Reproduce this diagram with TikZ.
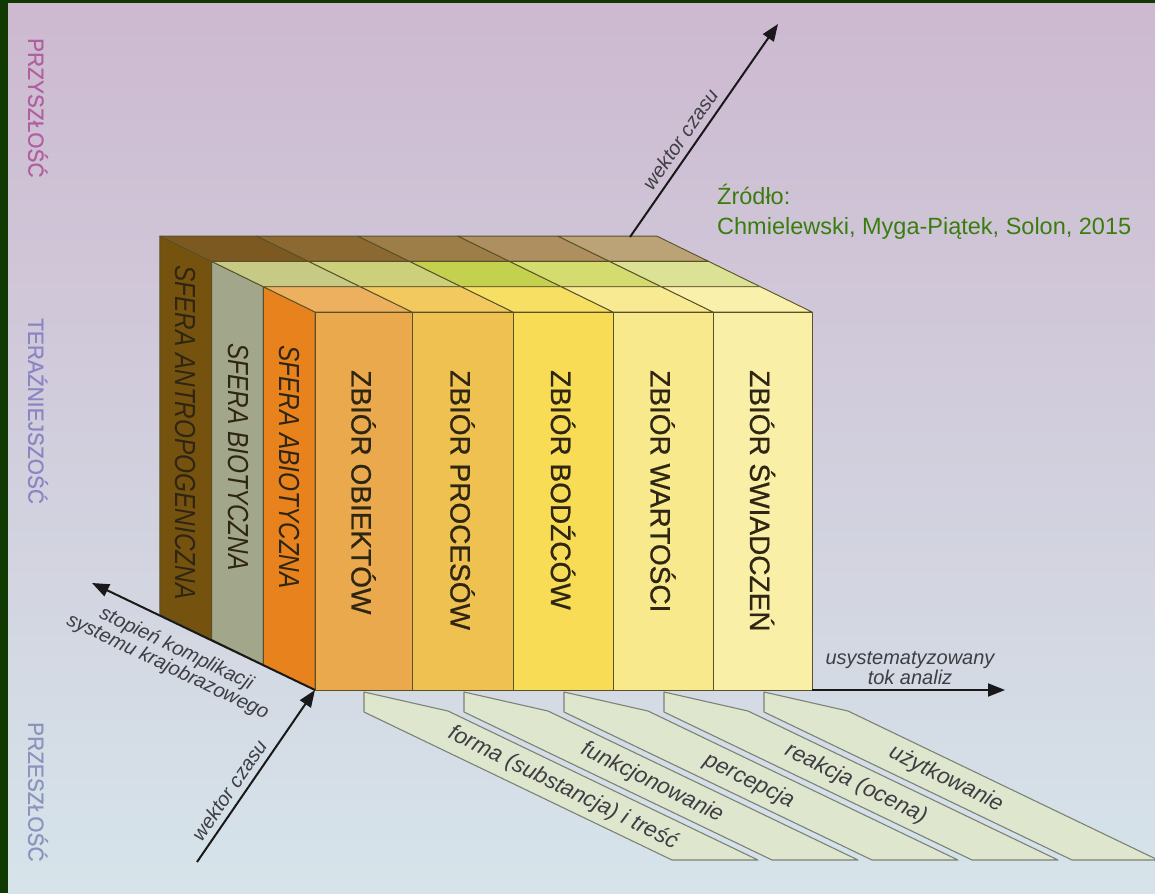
\documentclass[tikz,border=0pt]{standalone}
\usepackage{fontspec}
\setmainfont{Liberation Sans}
\newfontfamily\thicksans{Liberation Sans}[FakeBold=0.7]
\usetikzlibrary{arrows.meta}
\definecolor{framegreen}{HTML}{113A03}
\definecolor{bgtop}{HTML}{CDB9D0}
\definecolor{bgmid}{HTML}{D3CCDF}
\definecolor{bgbot}{HTML}{D6E4EA}
\definecolor{sideAntro}{HTML}{76520F}
\definecolor{sideBio}{HTML}{A2A78B}
\definecolor{sideAbio}{HTML}{E8821D}
\definecolor{fA}{HTML}{EAA94C}
\definecolor{fB}{HTML}{EFC151}
\definecolor{fC}{HTML}{F8DC55}
\definecolor{fD}{HTML}{F8E98C}
\definecolor{fE}{HTML}{F9EFA6}
\definecolor{tA0}{HTML}{ECB05E}
\definecolor{tB0}{HTML}{F1C95F}
\definecolor{tC0}{HTML}{F6DF63}
\definecolor{tD0}{HTML}{F7EA93}
\definecolor{tE0}{HTML}{F9F0AB}
\definecolor{tA1}{HTML}{C6CA85}
\definecolor{tB1}{HTML}{CDD07B}
\definecolor{tC1}{HTML}{C4D14E}
\definecolor{tD1}{HTML}{D5DC6F}
\definecolor{tE1}{HTML}{DBE195}
\definecolor{tA2}{HTML}{7D5922}
\definecolor{tB2}{HTML}{8B6930}
\definecolor{tC2}{HTML}{9D7E48}
\definecolor{tD2}{HTML}{AE9060}
\definecolor{tE2}{HTML}{BCA277}
\definecolor{edgecol}{HTML}{5A5028}
\definecolor{stripfill}{HTML}{DFE6CE}
\definecolor{stripline}{HTML}{7C8276}
\definecolor{labelgray}{HTML}{3E3E44}
\definecolor{namecol}{HTML}{2E2612}
\definecolor{srcgreen}{HTML}{3A7D0F}
\definecolor{futcol}{HTML}{B0609E}
\definecolor{prescol}{HTML}{8A86C4}
\definecolor{pastcol}{HTML}{8A94BC}
\tikzset{
  edge/.style={draw=edgecol, line width=0.9pt, line join=round},
  stripshape/.style={fill=stripfill, draw=stripline, line width=1.1pt, line join=round},
  striplabel/.style={font=\fontsize{22.5}{24}\selectfont\itshape, text=labelgray, inner sep=0pt},
  axlabel/.style={font=\fontsize{20}{20}\selectfont\itshape, text=labelgray, inner sep=0pt},
  axis/.style={draw=black!90, line width=2pt, -{Triangle[length=17pt,width=13pt]}},
  colname/.style={font=\thicksans\fontsize{28}{30}\selectfont, text=namecol, rotate=-90, anchor=west, inner sep=0pt},
  sphname/.style={font=\fontsize{29}{31}\selectfont\itshape, text=namecol, rotate=-90, anchor=west, inner sep=0pt},
  timename/.style={font=\thicksans\fontsize{22}{24}\selectfont, rotate=-90, anchor=west, inner sep=0pt},
  srctext/.style={font=\fontsize{23.5}{26}\selectfont, text=srcgreen, anchor=base west, inner sep=0pt}
}
\begin{document}
\begin{tikzpicture}[x=1pt,y=-1pt]
\useasboundingbox (0,0) rectangle (1155,893);
\fill[framegreen] (0,0) rectangle (1155,893);
\shade[top color=bgtop, middle color=bgmid, bottom color=bgbot] (8,4) rectangle (1155,893);

% time labels
\node[timename, text=futcol] (fut) at (38,38) {\scalebox{0.95}[1]{PRZYSZŁOŚĆ}};
\node[timename, text=prescol] (pres) at (38,318) {\scalebox{0.95}[1]{TERAŹNIEJSZOŚĆ}};
\node[timename, text=pastcol] (past) at (38,722) {\scalebox{0.95}[1]{PRZESZŁOŚĆ}};

% strips
\foreach \i in {0,...,4}{
  \pgfmathsetmacro\xo{364+100*\i}
  \draw[stripshape] (\xo,692) -- (\xo,712) -- (\xo+308,860) -- (\xo+394,860) -- (\xo+84,711) -- cycle;
}
\node[striplabel, rotate=-26.2] (s0) at (563,788) {forma (substancja) i treść};
\node[striplabel, rotate=-26.2] (s1) at (652,783) {funkcjonowanie};
\node[striplabel, rotate=-26.2] (s2) at (749,781) {percepcja};
\node[striplabel, rotate=-26.2] (s3) at (856,784) {reakcja (ocena)};
\node[striplabel, rotate=-26.2] (s4) at (946,779) {użytkowanie};

% side faces
\filldraw[edge, fill=sideAntro] (211.6,639.4) -- (211.6,261.4) -- (159.9,236.1) -- (159.9,614.1) -- cycle;
\filldraw[edge, fill=sideBio] (263.3,664.7) -- (263.3,286.7) -- (211.6,261.4) -- (211.6,639.4) -- cycle;
\filldraw[edge, fill=sideAbio] (315,690) -- (315,312) -- (263.3,286.7) -- (263.3,664.7) -- cycle;

% columns: front + tops
\foreach \xa/\xb/\fc/\ca/\cb/\cc in {315/412/fA/tA0/tA1/tA2, 412/513/fB/tB0/tB1/tB2, 513/613/fC/tC0/tC1/tC2, 613/713/fD/tD0/tD1/tD2, 713/812/fE/tE0/tE1/tE2}{
  \filldraw[edge, fill=\cc] (\xa-103.4,261.4) -- (\xb-103.4,261.4) -- (\xb-155.1,236.1) -- (\xa-155.1,236.1) -- cycle;
  \filldraw[edge, fill=\cb] (\xa-51.7,286.7) -- (\xb-51.7,286.7) -- (\xb-103.4,261.4) -- (\xa-103.4,261.4) -- cycle;
  \filldraw[edge, fill=\ca] (\xa,312) -- (\xb,312) -- (\xb-51.7,286.7) -- (\xa-51.7,286.7) -- cycle;
  \filldraw[edge, fill=\fc] (\xa,690) rectangle (\xb,312);
}

% names
\node[sphname] (antro) at (185,265) {\scalebox{0.84}[1]{SFERA ANTROPOGENICZNA}};
\node[sphname] (bio) at (238,343) {\scalebox{0.84}[1]{SFERA BIOTYCZNA}};
\node[sphname] (abio) at (289,345) {\scalebox{0.84}[1]{SFERA ABIOTYCZNA}};
\node[colname] (c1) at (363.5,370) {ZBIÓR OBIEKTÓW};
\node[colname] (c2) at (462.5,370) {ZBIÓR PROCESÓW};
\node[colname] (c3) at (563,370) {ZBIÓR BODŹCÓW};
\node[colname] (c4) at (663,370) {ZBIÓR WARTOŚCI};
\node[colname] (c5) at (762.5,370) {ZBIÓR ŚWIADCZEŃ};

% axes
\coordinate (O) at (315,690);
\coordinate (tailT) at (197,862);
\coordinate (topT) at (630,237);
\coordinate (tipT) at (778,24);
\coordinate (tipC) at (92,583);
\coordinate (rightE) at (812,690);
\coordinate (tipE) at (1005,690);
\draw[axis] (tailT) -- (O);
\draw[axis] (topT) -- (tipT);
\draw[axis] (O) -- (tipC);
\draw[axis] (rightE) -- (tipE);

\node[axlabel, rotate=55.5] (wc1) at (229,790) {wektor czasu};
\node[axlabel, rotate=55.3] (wc2) at (680,139) {wektor czasu};
\node[axlabel, rotate=-25.6, align=center] (sk) at (172,658) {stopień komplikacji\\systemu krajobrazowego};
\node[axlabel, align=center] (ut) at (910,668) {usystematyzowany\\tok analiz};

% source
\node[srctext] (src1) at (717,205) {Źródło:};
\node[srctext] (src2) at (717,234) {Chmielewski, Myga-Piątek, Solon, 2015};
\end{tikzpicture}
\end{document}
